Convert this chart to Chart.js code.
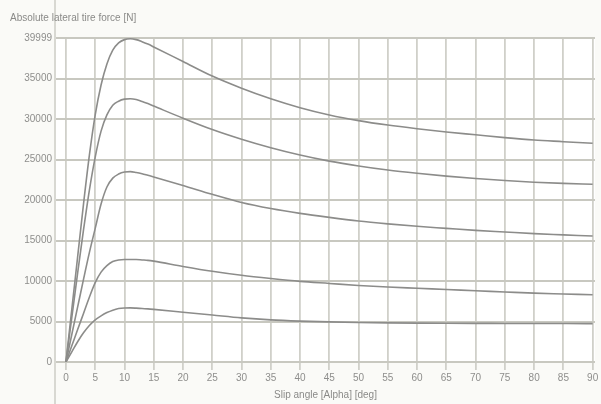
<!DOCTYPE html>
<html>
<head>
<meta charset="utf-8">
<script src="https://cdn.jsdelivr.net/npm/chart.js@4.4.1/dist/chart.umd.min.js"></script>
<style>
  html, body { margin: 0; padding: 0; background: #fafaf7; }
  #wrap { width: 601px; height: 404px; position: relative; }
</style>
</head>
<body>
<div id="wrap"><canvas id="c" width="601" height="404"></canvas></div>
<script>
// Slip angle [deg]
const angles = [0,1,2,3,4,5,6,7,8,9,10,11,12,13,14,15,20,25,30,35,40,45,50,55,60,65,70,75,80,85,90];
// Absolute lateral tire force [N], one series per curve (top to bottom)
const force1 = [0,6500,13000,19500,25500,30500,34200,36800,38500,39400,39800,39900,39800,39550,39250,38900,37100,35300,33800,32500,31400,30500,29800,29250,28800,28400,28050,27700,27400,27200,27000];
const force2 = [0,5500,11000,16300,21200,25300,28500,30500,31700,32200,32450,32500,32400,32150,31900,31600,30100,28700,27500,26450,25550,24800,24200,23700,23300,22950,22650,22400,22200,22050,21950];
const force3 = [0,3400,6800,10200,13500,16500,19500,21600,22700,23200,23450,23500,23400,23250,23050,22850,21800,20700,19700,18950,18350,17850,17400,17050,16750,16500,16250,16050,15850,15700,15550];
const force4 = [0,2000,4000,6000,8000,9800,11100,11900,12400,12600,12650,12650,12650,12600,12550,12450,11800,11200,10700,10300,9950,9700,9450,9250,9100,8950,8800,8650,8500,8400,8300];
const force5 = [0,1250,2500,3600,4500,5200,5700,6100,6400,6600,6670,6680,6650,6600,6560,6500,6150,5800,5450,5200,5050,4950,4880,4830,4800,4780,4770,4760,4750,4750,4740];
const series = [force1, force2, force3, force4, force5];

// Tick values and labels
const xTicks = [0,5,10,15,20,25,30,35,40,45,50,55,60,65,70,75,80,85,90];
const yTicks = [0,5000,10000,15000,20000,25000,30000,35000,40000];
const yTickLabels = ['0','5000','10000','15000','20000','25000','30000','35000','39999'];

const yTitle = 'Absolute lateral tire force [N]';
const xTitle = 'Slip angle [Alpha] [deg]';

const datasets = series.map(s => ({
  data: angles.map((a, i) => ({ x: a, y: s[i] })),
  borderColor: '#8c8c8a',
  borderWidth: 1.6,
  pointRadius: 0,
  fill: false,
  cubicInterpolationMode: 'monotone'
}));

const decor = {
  id: 'decor',
  beforeDraw(chart) {
    const { ctx, chartArea: a } = chart;
    ctx.save();
    ctx.fillStyle = '#ffffff';
    ctx.fillRect(a.left, a.top, a.right - a.left, a.bottom - a.top);
    ctx.restore();
  },
  afterDraw(chart) {
    const { ctx, chartArea: a } = chart;
    ctx.save();
    ctx.strokeStyle = '#cdcdc6';
    ctx.lineWidth = 1.5;
    ctx.beginPath();
    ctx.moveTo(a.left - 1, 0);
    ctx.lineTo(a.left - 1, chart.height);
    ctx.stroke();
    ctx.fillStyle = '#8a8a88';
    ctx.font = '10px "Liberation Sans", Arial, sans-serif';
    ctx.textBaseline = 'middle';
    ctx.textAlign = 'left';
    ctx.fillText(yTitle, 10, 18);
    ctx.restore();
  }
};

new Chart(document.getElementById('c'), {
  type: 'line',
  data: { datasets },
  plugins: [decor],
  options: {
    responsive: false,
    animation: false,
    layout: { padding: { top: 38, right: 6, left: 0, bottom: 0 } },
    plugins: { legend: { display: false }, tooltip: { enabled: false } },
    scales: {
      x: {
        type: 'linear',
        min: -1.7,
        max: 90.4,
        afterBuildTicks(scale) { scale.ticks = xTicks.map(v => ({ value: v })); },
        afterFit(scale) { scale.height = 42; },
        grid: { color: '#d0d0c9', lineWidth: 1.8, tickLength: 8, drawTicks: true },
        border: { display: false },
        ticks: {
          color: '#8e8e8c',
          font: { family: '"Liberation Sans", Arial, sans-serif', size: 10 },
          padding: 2,
          maxRotation: 0,
          autoSkip: false
        },
        title: {
          display: true,
          text: xTitle,
          color: '#8a8a88',
          font: { family: '"Liberation Sans", Arial, sans-serif', size: 10 },
          padding: { top: 0, bottom: 3 }
        }
      },
      y: {
        type: 'linear',
        min: 0,
        max: 40000,
        afterBuildTicks(scale) { scale.ticks = yTicks.map(v => ({ value: v })); },
        afterFit(scale) { scale.width = 56; },
        grid: { color: '#c8c8c0', lineWidth: 2, drawTicks: false },
        border: { display: false },
        ticks: {
          color: '#8e8e8c',
          font: { family: '"Liberation Sans", Arial, sans-serif', size: 10 },
          padding: 4,
          autoSkip: false,
          callback(value) { const i = yTicks.indexOf(value); return i >= 0 ? yTickLabels[i] : ''; }
        }
      }
    }
  }
});
</script>
</body>
</html>
